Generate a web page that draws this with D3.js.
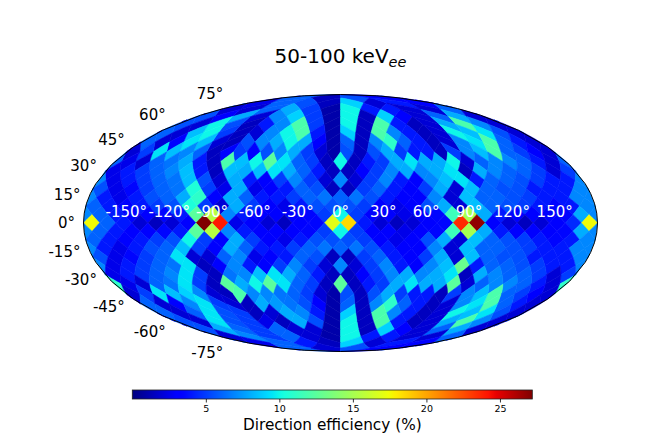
<!DOCTYPE html>
<html>
<head>
<meta charset="utf-8">
<script src="https://cdn.jsdelivr.net/npm/d3@7"></script>
<style>
  body { margin: 0; background: #fff; }
  svg { display: block; font-family: "DejaVu Sans", sans-serif; }
</style>
</head>
<body>
<svg id="chart" width="664" height="443"></svg>
<script>
// direction efficiency (%) on a HEALPix grid, nside = 8
// rings run north -> south, pixels in a ring run west -> east from lon -180
const ring01 = [6, 1.5, 5.5, 3];
const ring02 = [2.5, 6, 5.5, 1.5, 9, 2, 4, 3];
const ring03 = [2, 2, 6, 8, 5, 1, 10, 4, 4, 2, 2, 6];
const ring04 = [5.5, 3, 8, 2, 7, 9, 5, 1, 10, 1.5, 9, 3, 2, 6, 8, 2];
const ring05 = [5.5, 2, 10, 5.5, 1.5, 4, 7, 12, 5, 1, 10, 1.5, 12, 4, 1.5, 2, 8, 12, 7, 2];
const ring06 = [6, 2, 8.5, 10, 5, 1.5, 2, 7, 10, 12, 4, 1, 9, 1.5, 12, 7, 4, 1.5, 2, 10, 8.5, 9.5, 5.5, 2];
const ring07 = [6, 2, 3, 9.5, 8.5, 2, 1.5, 5.5, 7, 8, 10, 8, 3, 1, 6, 1.5, 7, 11, 6, 4, 1.5, 2, 7, 9.5, 12, 6, 4, 2];
const ring08 = [2, 5, 9.5, 8.5, 7, 6, 1.5, 3, 5, 3, 5.5, 7, 8, 5, 2, 1, 5.5, 1.5, 5.5, 8, 5, 4, 4, 1.5, 5, 7, 8.5, 12, 6, 5, 3, 2];
const ring09 = [6, 2.5, 2, 6, 6.5, 8, 4, 1.5, 12, 8.5, 10, 12.5, 9.5, 6, 5, 1.5, 10, 1.5, 4, 5, 8, 9.5, 8, 8, 10, 2, 6, 7, 7, 6, 4, 2];
const ring10 = [2.5, 4, 5, 6, 7, 8.5, 4, 1.5, 8.5, 8, 8.5, 9.5, 8, 6, 4, 1.5, 1.5, 3, 5, 7, 8, 7, 8, 9.5, 1.5, 8, 7, 6, 6, 5, 2, 5];
const ring11 = [7, 2.5, 4, 5, 6, 6.5, 8.5, 5.5, 2, 8, 4, 3, 5, 7, 5, 2, 7, 2, 5, 7, 4, 3, 7, 8.5, 9.5, 4, 6, 6, 5.5, 5, 4, 4];
const ring12 = [5.5, 2.5, 3.5, 5, 6, 6.5, 10.5, 5, 2.5, 8, 2.5, 3, 4, 6, 5.5, 1.5, 1.5, 5, 6, 4, 3, 5, 8, 2, 8.5, 6, 5.5, 5.5, 4, 4, 4, 7];
const ring13 = [7, 4, 2.5, 4, 5.5, 6, 8, 11, 3, 8, 6, 4, 4, 5, 6, 6.5, 6, 6.5, 5.5, 4, 3, 3, 7, 2, 8.5, 6, 6, 5.5, 5, 4, 4, 7];
const ring14 = [6, 4, 3, 4, 5, 5.5, 10.5, 5, 2, 8, 5, 3, 2.5, 4, 5.5, 5.5, 5.5, 5, 3, 2.5, 3, 5.5, 8, 2, 8.5, 6, 5.5, 5, 4, 3.5, 4, 7];
const ring15 = [7, 6, 4, 3, 3, 3.5, 4, 12.5, 15.5, 7, 4, 3, 3, 3, 3.5, 5, 10, 5, 3, 3, 2.5, 3, 3.5, 11.5, 15, 8, 4, 3, 3, 3, 3.5, 8];
const ring16 = [17.5, 6, 4, 2, 1.5, 2, 3, 27.2, 24, 2.5, 3, 2, 1.5, 3, 3.5, 17, 18.5, 4, 2, 1.5, 2, 3, 3.5, 23.5, 26.8, 3, 2, 1.5, 2, 3, 4.5, 17.5];
const ring17 = [7, 6, 4, 3, 3, 3.5, 4, 12.5, 15.5, 7, 4, 3, 3, 3, 3.5, 5, 10, 5, 3, 3, 2.5, 3, 3.5, 11.5, 15, 8, 4, 3, 3, 3, 3.5, 8];
const ring18 = [6, 4, 3, 4, 5, 5.5, 10, 5, 3, 8, 5, 3, 2.5, 4, 5.5, 5.5, 5.5, 5, 3, 2.5, 3, 5.5, 8, 2, 8.5, 6, 5.5, 5, 4, 3.5, 4, 7];
const ring19 = [7, 4, 2.5, 4, 5.5, 6, 8.5, 5, 3, 8, 6, 4, 4, 5, 6, 6.5, 6, 6.5, 5.5, 4, 3, 3, 7, 2, 8.5, 6, 6, 5.5, 5, 4, 4, 7];
const ring20 = [5.5, 2.5, 3.5, 5, 6, 9.5, 2, 2, 6, 7, 2.5, 3, 4, 6, 5.5, 1.5, 1.5, 5, 6, 4, 3, 5, 8, 2, 8.5, 6, 5.5, 5.5, 4, 4, 4, 7];
const ring21 = [7, 2.5, 4, 5, 6, 6.5, 9.5, 1.5, 3, 7, 4, 3, 5, 7, 5, 2, 7, 2, 5, 7, 4, 3, 7, 8.5, 13, 4, 6, 6, 5.5, 5, 4, 4];
const ring22 = [2.5, 4, 5, 6, 7, 9.5, 5, 1.5, 6.5, 7, 8.5, 9.5, 8, 6, 4, 1.5, 1.5, 3, 5, 7, 8, 7, 8, 9.5, 1.5, 8, 7, 6, 6, 5, 2, 5];
const ring23 = [11, 2.5, 2, 6, 6.5, 9.5, 5, 1.5, 12.5, 8, 10, 12.5, 9.5, 6, 5, 1.5, 12.5, 1.5, 4, 5, 8, 9.5, 8, 8, 12.5, 2, 6, 7, 7, 6, 4, 2];
const ring24 = [2, 5, 9.5, 8.5, 9, 7, 2, 1.5, 12, 7, 7, 6.5, 6, 5, 2, 1, 5.5, 1.5, 5.5, 8, 5, 4, 4, 1.5, 5, 7, 8.5, 12, 6, 5, 3, 2];
const ring25 = [6, 2, 3, 7, 9.5, 5, 2, 1.5, 8, 7.5, 6.5, 5.5, 3, 1, 6, 1.5, 7, 11, 6, 4, 1.5, 2, 7, 9.5, 12, 6, 4, 2];
const ring26 = [6, 2, 6, 9.5, 5.5, 5, 1.5, 2, 8, 7, 4, 1, 9, 1.5, 12, 7, 4, 1.5, 2, 10, 8.5, 9.5, 5.5, 2];
const ring27 = [5.5, 2, 9.5, 5.5, 5, 2.5, 1.5, 8, 5.5, 1, 10, 1.5, 12, 4, 1.5, 2, 8, 12, 7, 2];
const ring28 = [5.5, 8, 6, 5, 6, 2, 2, 1, 10, 1.5, 9, 3, 2, 6, 8, 2];
const ring29 = [2, 7, 5, 6, 2, 1, 10, 4, 4, 2, 2, 6];
const ring30 = [2.5, 6, 4, 1.5, 9, 2, 4, 3];
const ring31 = [6, 2, 5.5, 3];

const latTicks = [-75, -60, -45, -30, -15, 0, 15, 30, 45, 60, 75];
const lonTicks = [-150, -120, -90, -60, -30, 0, 30, 60, 90, 120, 150];
const cbTicks = [5, 10, 15, 20, 25];
const cbRange = [0, 27.2];

const rings = [ring01, ring02, ring03, ring04, ring05, ring06, ring07, ring08, ring09, ring10,
  ring11, ring12, ring13, ring14, ring15, ring16, ring17, ring18, ring19, ring20, ring21,
  ring22, ring23, ring24, ring25, ring26, ring27, ring28, ring29, ring30, ring31];

const nside = 8;
const PI = Math.PI;
const step = PI / (4 * nside);

// matplotlib jet
const jetR = [[0, 0], [0.35, 0], [0.66, 1], [0.89, 1], [1, 0.5]];
const jetG = [[0, 0], [0.125, 0], [0.375, 1], [0.64, 1], [0.91, 0], [1, 0]];
const jetB = [[0, 0.5], [0.11, 1], [0.34, 1], [0.65, 0], [1, 0]];
function seg(pts, t) {
  for (let k = 1; k < pts.length; k++) {
    if (t <= pts[k][0]) {
      const [x0, y0] = pts[k - 1], [x1, y1] = pts[k];
      return y0 + (y1 - y0) * (t - x0) / (x1 - x0);
    }
  }
  return pts[pts.length - 1][1];
}
function jet(t) {
  t = Math.max(0, Math.min(1, t));
  return d3.rgb(255 * seg(jetR, t), 255 * seg(jetG, t), 255 * seg(jetB, t)).formatHex();
}
const norm = d3.scaleLinear().domain(cbRange).range([0, 1]).clamp(true);

// mollweide
function mollweideRaw(lambda, phi) {
  const k = PI * Math.sin(phi);
  let p = phi, delta, i = 30;
  do { p -= delta = (p + Math.sin(p) - k) / (1 + Math.cos(p)); }
  while (Math.abs(delta) > 1e-9 && --i > 0);
  const theta = p / 2;
  return [2 * Math.SQRT2 / PI * lambda * Math.cos(theta), Math.SQRT2 * Math.sin(theta)];
}
const projection = d3.geoProjection(mollweideRaw)
  .scale(257 / (2 * Math.SQRT2))
  .translate([340.5, 223]);
const path = d3.geoPath(projection);

// healpix plane -> lon/lat (degrees)
function planeToLonLat(x, y, phiC) {
  const ay = Math.abs(y);
  let lon, z;
  if (ay <= PI / 4 + 1e-12) {
    lon = x;
    z = y * 8 / (3 * PI);
  } else {
    const sigma = 2 - 4 * ay / PI;
    z = Math.sign(y) * (1 - sigma * sigma / 3);
    lon = sigma > 1e-9 ? phiC + (x - phiC) / sigma : phiC;
  }
  return [lon * 180 / PI, Math.asin(Math.max(-1, Math.min(1, z))) * 180 / PI];
}

const pixels = [];
rings.forEach((vals, r) => {
  const i = r + 1;
  const polarI = i < nside ? i : (i > 3 * nside ? 4 * nside - i : 0);
  const n = polarI ? 4 * polarI : 4 * nside;
  if (vals.length !== n) console.warn("ring", i, "has", vals.length, "values, expected", n);
  const yc = PI / 2 - i * step;
  const shift = polarI ? 0.5 : ((i - nside + 1) % 2 ? 0.5 : 0);
  vals.forEach((v, j) => {
    const lon = -PI + (j + shift) * 2 * PI / n;
    const phiC = -PI + (2 * Math.floor((lon + PI) / (PI / 2)) + 1) * PI / 4;
    const xc = polarI ? phiC + (lon - phiC) * (polarI / nside) : lon;
    const verts = [[xc, yc + step], [xc + step, yc], [xc, yc - step], [xc - step, yc]];
    const pts = [];
    for (let e = 0; e < 4; e++) {
      const a = verts[e], b = verts[(e + 1) % 4];
      for (let k = 0; k < 8; k++) {
        const t = k / 8;
        pts.push(planeToLonLat(a[0] + (b[0] - a[0]) * t, a[1] + (b[1] - a[1]) * t, phiC));
      }
    }
    pts.push(pts[0]);
    let feature = {type: "Polygon", coordinates: [pts]};
    if (d3.geoArea(feature) > 2 * PI) feature = {type: "Polygon", coordinates: [pts.slice().reverse()]};
    pixels.push({feature, value: v});
  });
});

const svg = d3.select("#chart");

svg.append("g")
  .selectAll("path")
  .data(pixels)
  .join("path")
    .attr("d", d => path(d.feature))
    .attr("fill", d => jet(norm(d.value)))
    .attr("stroke", d => jet(norm(d.value)))
    .attr("stroke-width", 0.6)
    .attr("stroke-linejoin", "round");

svg.append("path")
  .attr("d", path({type: "Sphere"}))
  .attr("fill", "none")
  .attr("stroke", "#000")
  .attr("stroke-width", 1);

// latitude labels along the west rim
svg.append("g")
  .selectAll("text")
  .data(latTicks)
  .join("text")
    .attr("x", d => projection([-180, d])[0] - 8.5)
    .attr("y", d => projection([-180, d])[1] - 0.17 * d + 5.4)
    .attr("text-anchor", "end")
    .attr("font-size", 15)
    .attr("fill", "#000")
    .text(d => `${d}°`);

// longitude labels on the equator
svg.append("g")
  .selectAll("text")
  .data(lonTicks)
  .join("text")
    .attr("x", d => projection([d, 0])[0])
    .attr("y", d => projection([d, 0])[1] - 6.5)
    .attr("text-anchor", "middle")
    .attr("font-size", 15)
    .attr("fill", "#fff")
    .text(d => `${d}°`);

// title
const title = svg.append("text")
  .attr("x", 340.5)
  .attr("y", 63.3)
  .attr("text-anchor", "middle")
  .attr("font-size", 20)
  .attr("fill", "#000")
  .text("50-100 keV");
title.append("tspan")
  .attr("dy", 3.5)
  .attr("font-size", 14.5)
  .attr("font-style", "italic")
  .text("ee");

// colorbar
const cbX = d3.scaleLinear().domain(cbRange).range([132.3, 532.3]);
const cbY = 390, cbH = 9;
const grad = svg.append("defs").append("linearGradient")
  .attr("id", "jetgrad")
  .attr("x1", "0%").attr("x2", "100%").attr("y1", "0%").attr("y2", "0%");
grad.selectAll("stop")
  .data(d3.range(0, 1.0001, 0.01))
  .join("stop")
    .attr("offset", d => `${d * 100}%`)
    .attr("stop-color", d => jet(d));

svg.append("rect")
  .attr("x", cbX.range()[0])
  .attr("y", cbY)
  .attr("width", cbX.range()[1] - cbX.range()[0])
  .attr("height", cbH)
  .attr("fill", "url(#jetgrad)")
  .attr("stroke", "#222")
  .attr("stroke-width", 0.8);

const cbAxis = svg.append("g")
  .attr("transform", `translate(0,${cbY + cbH})`)
  .call(d3.axisBottom(cbX).tickValues(cbTicks).tickSize(3.5).tickSizeOuter(0).tickPadding(2.5));
cbAxis.select(".domain").remove();
cbAxis.selectAll("text")
  .attr("font-size", 9.5)
  .attr("font-family", "DejaVu Sans, sans-serif")
  .attr("fill", "#000");
cbAxis.selectAll("line").attr("stroke", "#000").attr("stroke-width", 0.8);

svg.append("text")
  .attr("x", (cbX.range()[0] + cbX.range()[1]) / 2)
  .attr("y", 430)
  .attr("text-anchor", "middle")
  .attr("font-size", 15.3)
  .attr("fill", "#000")
  .text("Direction efficiency (%)");
</script>
</body>
</html>
